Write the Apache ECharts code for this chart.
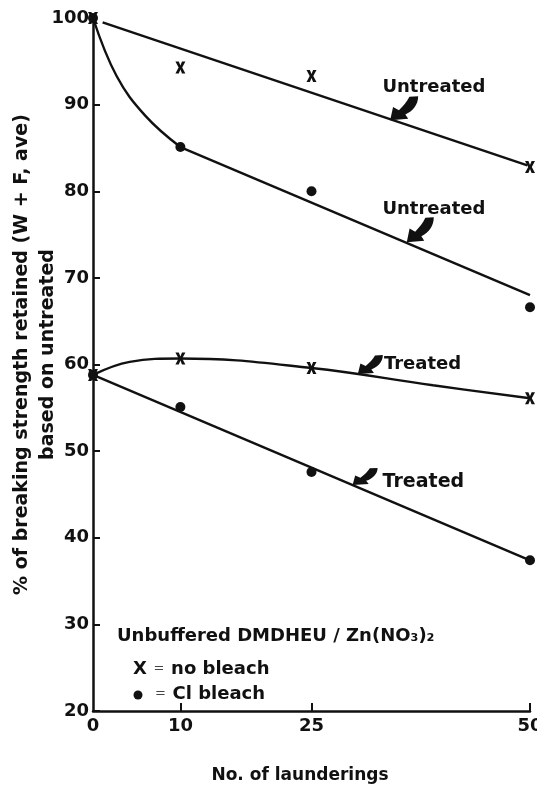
<!DOCTYPE html>
<html>
<head>
<meta charset="utf-8">
<script src="https://cdn.jsdelivr.net/npm/echarts@6/dist/echarts.min.js"></script>
<style>
  html, body { margin: 0; padding: 0; background: #fff; }
  #chart { width: 537px; height: 787px; }
</style>
</head>
<body>
<div id="chart"></div>
<script>
// 洗涤次数
const launderings = [0, 10, 25, 50];
// 测得的强度保留率 (%)
const noBleachUntreated = [100, 94.3, 93.3, 82.8];
const clBleachUntreated = [100, 85.1, 80.0, 66.6];
const noBleachTreated = [58.8, 60.7, 59.6, 56.1];
const clBleachTreated = [58.8, 55.1, 47.6, 37.4];

// 手绘的拟合线 [洗涤次数, %]
const fitNoBleachUntreated = [[1.1, 99.5], [49.7, 83.0]];
const curveClBleachUntreated = [[0, 100], [2.7, 93.3], [6, 88.7], [10, 85.1]];
const fitClBleachUntreated = [[10, 85.1], [50, 68.0]];
const curveNoBleachTreated = [[0, 58.8], [4.2, 60.3], [10, 60.7], [25, 59.6], [38.9, 57.6], [50, 56.1]];
const fitClBleachTreated = [[0, 58.8], [50, 37.4]];

const yTicks = [20, 30, 40, 50, 60, 70, 80, 90, 100];
const xLabels = [0, 10, 25, 50];

const INK = "#111";
const FONT = "DejaVu Sans";
const X_MARK = "path://M0 0 L3.4 0 L5 4 L6.6 0 L10 0 L6.8 6 L10 12 L6.6 12 L5 8 L3.4 12 L0 12 L3.2 6 Z";
const ARROW = "path://M0 100 L10 45 L30 58 C45 40 58 22 66 2 L96 0 C96 35 78 62 52 76 L62 94 Z";

const pairs = (ys) => launderings.map((x, i) => [x, ys[i]]);

// 注释: 箭头尖端和文字中心 (数据坐标)
const notes = [
  { text: "Untreated", tip: [34.0, 88.2], size: [28, 24], at: [39.0, 92.0], fs: 18 },
  { text: "Untreated", tip: [35.9, 74.1], size: [27, 25], at: [39.0, 77.9], fs: 18 },
  { text: "Treated", tip: [30.3, 58.9], size: [25, 19], at: [37.7, 60.0], fs: 18 },
  { text: "Treated", tip: [29.7, 46.1], size: [25, 17], at: [37.8, 46.4], fs: 19 },
];

const noteMarks = (n) => ({
  silent: true,
  animation: false,
  data: [
    {
      coord: n.tip,
      symbol: ARROW,
      symbolSize: n.size,
      symbolOffset: ["50%", "-50%"],
      itemStyle: { color: INK },
      label: { show: false },
    },
    {
      coord: n.at,
      symbol: "circle",
      symbolSize: 0,
      label: {
        show: true,
        position: "inside",
        formatter: n.text,
        color: INK,
        fontFamily: FONT,
        fontWeight: "bold",
        fontSize: n.fs,
      },
    },
  ],
});

const lineSeries = (data, smooth, note) => ({
  type: "line",
  data: data,
  smooth: smooth,
  showSymbol: false,
  silent: true,
  animation: false,
  lineStyle: { color: INK, width: 2.4 },
  z: 2,
  markPoint: note ? noteMarks(note) : undefined,
});

const chart = echarts.init(document.getElementById("chart"));
const option = {
  backgroundColor: "#fff",
  animation: false,
  grid: { left: 93, right: 7, top: 18, bottom: 76, outerBoundsMode: "none", containLabel: false },
  xAxis: {
    type: "value",
    min: 0,
    max: 50,
    name: "No. of launderings",
    nameLocation: "middle",
    nameGap: 56,
    nameMoveOverlap: false,
    nameTextStyle: {
      color: INK,
      fontFamily: FONT,
      fontWeight: "bold",
      fontSize: 17,
      padding: [0, 23, 0, 0],
    },
    axisLine: { lineStyle: { color: INK, width: 2.5 } },
    axisTick: {
      inside: true,
      length: 8,
      lineStyle: { color: INK, width: 2 },
      customValues: xLabels.slice(1),
    },
    axisLabel: {
      customValues: xLabels,
      margin: 6,
      color: INK,
      fontFamily: FONT,
      fontWeight: "bold",
      fontSize: 18,
    },
    splitLine: { show: false },
  },
  yAxis: {
    type: "value",
    min: 20,
    max: 100,
    interval: 10,
    name: "% of breaking strength retained (W + F, ave)\nbased on untreated",
    nameLocation: "middle",
    nameRotate: 90,
    nameGap: 32,
    nameMoveOverlap: false,
    nameTextStyle: {
      color: INK,
      fontFamily: FONT,
      fontWeight: "bold",
      fontSize: 19,
      lineHeight: 26,
      padding: [0, 0, 0, 20],
    },
    axisLine: { show: true, lineStyle: { color: INK, width: 2.5 } },
    axisTick: {
      inside: true,
      length: 7,
      lineStyle: { color: INK, width: 2 },
      customValues: yTicks.slice(0, -1),
    },
    axisLabel: {
      margin: 4,
      color: INK,
      fontFamily: FONT,
      fontWeight: "bold",
      fontSize: 18,
    },
    splitLine: { show: false },
  },
  series: [
    lineSeries(fitNoBleachUntreated, false, notes[0]),
    lineSeries(curveClBleachUntreated, 0.4, null),
    lineSeries(fitClBleachUntreated, false, notes[1]),
    lineSeries(curveNoBleachTreated, 0.4, notes[2]),
    lineSeries(fitClBleachTreated, false, notes[3]),
    {
      type: "scatter",
      data: pairs(noBleachUntreated).concat(pairs(noBleachTreated)),
      symbol: X_MARK,
      symbolSize: [10, 12],
      itemStyle: { color: INK, opacity: 1 },
      silent: true,
      animation: false,
      z: 3,
    },
    {
      type: "scatter",
      data: pairs(clBleachUntreated).concat(pairs(clBleachTreated)),
      symbol: "circle",
      symbolSize: 10,
      itemStyle: { color: INK, opacity: 1 },
      silent: true,
      animation: false,
      z: 3,
    },
  ],
  graphic: [
    {
      type: "text",
      left: 117,
      top: 627,
      style: {
        text: "Unbuffered DMDHEU / Zn(NO₃)₂",
        font: 'bold 18px "DejaVu Sans"',
        fill: INK,
      },
    },
    {
      type: "text",
      left: 133,
      top: 660,
      style: {
        text: "{a|X}  {b|=}  {a|no bleach}",
        rich: {
          a: { fontFamily: FONT, fontWeight: "bold", fontSize: 18, fill: INK, color: INK },
          b: { fontFamily: FONT, fontSize: 13, fill: "#444", color: "#444" },
        },
      },
    },
    {
      type: "circle",
      shape: { cx: 138, cy: 695, r: 4.5 },
      style: { fill: INK },
    },
    {
      type: "text",
      left: 155,
      top: 685,
      style: {
        text: "{b|=}  {a|Cl bleach}",
        rich: {
          a: { fontFamily: FONT, fontWeight: "bold", fontSize: 18, fill: INK, color: INK },
          b: { fontFamily: FONT, fontSize: 13, fill: "#444", color: "#444" },
        },
      },
    },
  ],
};
chart.setOption(option);
</script>
</body>
</html>
